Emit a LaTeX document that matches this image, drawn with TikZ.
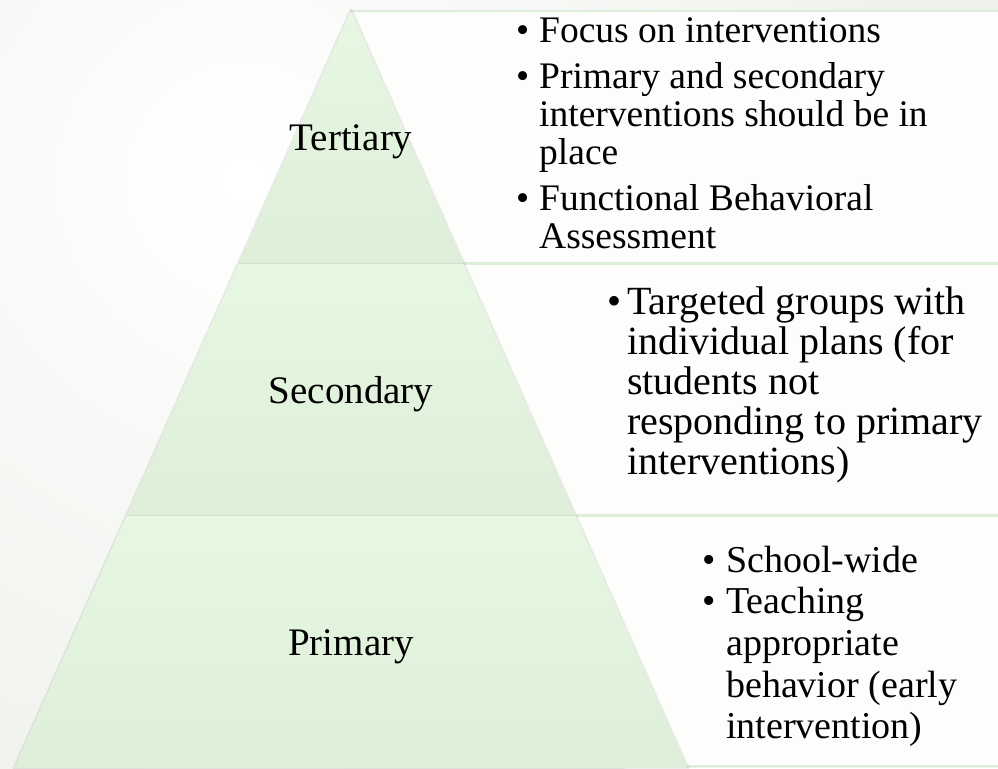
\documentclass[tikz,border=0pt]{standalone}
\usepackage{fontspec}
\setmainfont{Liberation Serif}
\definecolor{bgout}{HTML}{EEF1EB}
\definecolor{gtop}{HTML}{E6F8E2}
\definecolor{gbot}{HTML}{DEEED9}
\definecolor{boxfill}{HTML}{FDFDFC}
\definecolor{boxline}{HTML}{DCEDD8}
\definecolor{bandline}{HTML}{CFE2CB}
\tikzset{
  boxst/.style={fill=boxfill, draw=boxline, line width=1.6pt},
  bandst/.style={top color=gtop, bottom color=gbot},
  sepline/.style={draw=bandline, line width=0.8pt},
  lbl/.style={anchor=base, inner sep=0pt, font=\fontsize{39}{40}\selectfont},
  txt/.style={anchor=base west, inner sep=0pt}
}
\begin{document}
\begin{tikzpicture}[x=1pt,y=-1pt]
\useasboundingbox (0,0) rectangle (998,768);
\begin{scope}
\clip (0,0) rectangle (998,768);
\fill[bgout] (0,0) rectangle (998,768);
\shade[inner color=white, outer color=bgout] (245,180) circle (700);
% text boxes
\draw[boxst] (351,11) rectangle (1010,263);
\draw[boxst] (351,264) rectangle (1010,515);
\draw[boxst] (351,516) rectangle (1010,766);
% pyramid shadow
\draw[line width=3pt, black, opacity=0.08, line join=round] (351,10) -- (687.6,768) -- (14.4,768) -- cycle;
% pyramid bands
\shade[bandst] (351,11) -- (463,263) -- (239,263) -- cycle;
\shade[bandst] (239,263) -- (463,263) -- (575.1,515) -- (126.9,515) -- cycle;
\shade[bandst] (126.9,515) -- (575.1,515) -- (687.6,768) -- (14.4,768) -- cycle;
\coordinate (s1l) at (239,263);
\coordinate (s1r) at (463,263);
\coordinate (s2l) at (126.9,515);
\coordinate (s2r) at (575.1,515);
\draw[sepline] (s1l) -- (s1r);
\draw[sepline] (s2l) -- (s2r);
% labels
\node[lbl] (tert) at (351,150) {Tertiary};
\node[lbl] (sec) at (351,403) {Secondary};
\node[lbl] (prim) at (351,655) {Primary};
% texts
\node[txt] (ttext) at (516,43) {\fontsize{37.5}{38}\selectfont
\begin{tabular}[t]{@{}p{23pt}@{}l@{}}
\textbullet & Focus on interventions\\[8pt]
\textbullet & Primary and secondary\\
 & interventions should be in\\
 & place\\[8pt]
\textbullet & Functional Behavioral\\
 & Assessment
\end{tabular}};
\node[txt] (stext) at (607,314) {\fontsize{40}{40}\selectfont
\begin{tabular}[t]{@{}p{20pt}@{}l@{}}
\textbullet & Targeted groups with\\
 & individual plans (for\\
 & students not\\
 & responding to primary\\
 & interventions)
\end{tabular}};
\node[txt] (ptext) at (702,572) {\fontsize{38}{41.7}\selectfont
\begin{tabular}[t]{@{}p{24pt}@{}l@{}}
\textbullet & School-wide\\
\textbullet & Teaching\\
 & appropriate\\
 & behavior (early\\
 & intervention)
\end{tabular}};
\end{scope}
\end{tikzpicture}
\end{document}
